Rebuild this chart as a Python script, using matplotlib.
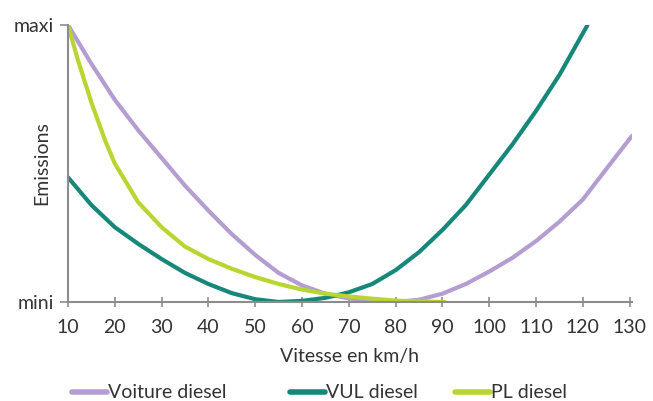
import matplotlib
matplotlib.use("Agg")
import matplotlib.pyplot as plt
import numpy as np

# vitesse (km/h) / emissions (0 = mini, 100 = maxi)
v_voiture = [10, 15, 20, 25, 30, 35, 40, 45, 50, 55, 60, 65, 70, 75, 80, 85, 90, 95, 100, 105, 110, 115, 120, 125, 130.5]
e_voiture = [100, 86, 73, 62, 52, 42, 33, 24.5, 17, 10.5, 6, 3, 1.3, 0.4, 0, 0.8, 3, 6.5, 11, 16, 22, 29, 37, 48, 60]

v_vul = [10, 15, 20, 25, 30, 35, 40, 45, 50, 55, 60, 65, 70, 75, 80, 85, 90, 95, 100, 105, 110, 115, 121]
e_vul = [45, 35, 27, 21, 15.5, 10.5, 6.5, 3.2, 1, 0, 0.4, 1.5, 3.5, 6.5, 11.5, 18, 26, 35, 46, 57, 69, 82, 100]

v_pl = [10, 12, 15, 18, 20, 25, 30, 35, 40, 45, 50, 55, 60, 65, 70, 75, 80, 85, 90.5]
e_pl = [100, 88, 72, 58, 50, 36, 27, 20, 15.5, 12, 9, 6.5, 4.5, 3, 2, 1.2, 0.5, 0.2, 0]

xticks = [10, 20, 30, 40, 50, 60, 70, 80, 90, 100, 110, 120, 130]
series_names = ["Voiture diesel", "VUL diesel", "PL diesel"]
colors = ["#b49dd0", "#17877a", "#b9d531"]

plt.rcParams["font.family"] = ["Lato", "DejaVu Sans"]
txt = "#333333"

fig = plt.figure(figsize=(6.53, 4.01), dpi=100)
ax = fig.add_axes([68 / 653, 1 - 302 / 401, (632 - 68) / 653, (302 - 25) / 401])

l1, = ax.plot(v_voiture, e_voiture, color=colors[0], lw=3, solid_capstyle="round")
l2, = ax.plot(v_vul, e_vul, color=colors[1], lw=3, solid_capstyle="round")
l3, = ax.plot(v_pl, e_pl, color=colors[2], lw=3, solid_capstyle="round")

ax.set_xlim(10, 130.5)
ax.set_ylim(0, 100)
ax.set_xticks(xticks)
ax.set_yticks([0, 100])
ax.set_yticklabels(["mini", "maxi"])

for s in ["top", "right"]:
    ax.spines[s].set_visible(False)
for s in ["left", "bottom"]:
    ax.spines[s].set_color("#8c8c8c")
    ax.spines[s].set_linewidth(1.5)
ax.tick_params(axis="x", direction="inout", length=7, width=1.2, color="#8c8c8c",
               labelsize=14, labelcolor=txt, pad=9)
ax.tick_params(axis="y", direction="out", length=6, width=1.2, color="#8c8c8c",
               labelsize=14, labelcolor=txt, pad=4)

ax.set_xlabel("Vitesse en km/h", fontsize=14, color=txt)
ax.xaxis.set_label_coords(0.5, -0.165)
ax.set_ylabel("Emissions", fontsize=14, color=txt)
ax.yaxis.set_label_coords(-0.032, 0.5)

# one legend per entry, spaced like the original
leg_x = [72 / 653, 290 / 653, 455 / 653]
for line, name, x in zip([l1, l2, l3], series_names, leg_x):
    leg = fig.legend([line], [name], loc="center left", bbox_to_anchor=(x, 1 - 393 / 401),
                     frameon=False, fontsize=14, handlelength=1.8, handletextpad=0.05,
                     borderpad=0, borderaxespad=0, labelcolor=txt)
    leg.get_lines()[0].set_linewidth(4)

fig.savefig("out.png", dpi=100, facecolor="white")
